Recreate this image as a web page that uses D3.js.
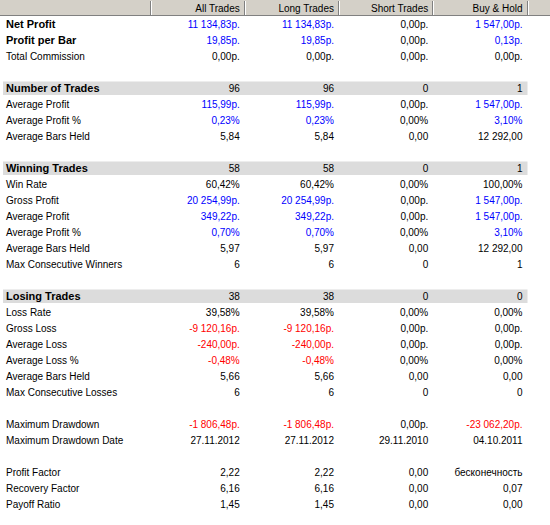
<!DOCTYPE html>
<html><head><meta charset="utf-8">
<script src="https://cdn.jsdelivr.net/npm/d3@7/dist/d3.min.js"></script>
<style>html,body{margin:0;padding:0;background:#fff;}svg{display:block;}</style>
</head><body>
<div id="chart"></div>
<script>
const columns = ["All Trades", "Long Trades", "Short Trades", "Buy & Hold"];
const labels = ["Net Profit","Profit per Bar","Total Commission","","Number of Trades","Average Profit","Average Profit %","Average Bars Held","","Winning Trades","Win Rate","Gross Profit","Average Profit","Average Profit %","Average Bars Held","Max Consecutive Winners","","Losing Trades","Loss Rate","Gross Loss","Average Loss","Average Loss %","Average Bars Held","Max Consecutive Losses","","Maximum Drawdown","Maximum Drawdown Date","","Profit Factor","Recovery Factor","Payoff Ratio"];
const allTrades = ["11 134,83р.","19,85р.","0,00р.","","96","115,99р.","0,23%","5,84","","58","60,42%","20 254,99р.","349,22р.","0,70%","5,97","6","","38","39,58%","-9 120,16р.","-240,00р.","-0,48%","5,66","6","","-1 806,48р.","27.11.2012","","2,22","6,16","1,45"];
const longTrades = ["11 134,83р.","19,85р.","0,00р.","","96","115,99р.","0,23%","5,84","","58","60,42%","20 254,99р.","349,22р.","0,70%","5,97","6","","38","39,58%","-9 120,16р.","-240,00р.","-0,48%","5,66","6","","-1 806,48р.","27.11.2012","","2,22","6,16","1,45"];
const shortTrades = ["0,00р.","0,00р.","0,00р.","","0","0,00р.","0,00%","0,00","","0","0,00%","0,00р.","0,00р.","0,00%","0,00","0","","0","0,00%","0,00р.","0,00р.","0,00%","0,00","0","","0,00р.","29.11.2010","","0,00","0,00","0,00"];
const buyHold = ["1 547,00р.","0,13р.","0,00р.","","1","1 547,00р.","3,10%","12 292,00","","1","100,00%","1 547,00р.","1 547,00р.","3,10%","12 292,00","1","","0","0,00%","0,00р.","0,00р.","0,00%","0,00","0","","-23 062,20р.","04.10.2011","","бесконечность","0,07","0,00"];
const sectionRows = ["Number of Trades","Winning Trades","Losing Trades"];
const boldRows = ["Net Profit","Profit per Bar"];
const blueRows = ["Net Profit","Profit per Bar","Average Profit","Average Profit %","Gross Profit"];

const series = [allTrades, longTrades, shortTrades, buyHold];
const W = 550, H = 525, headerH = 16, rowH = 16;
const font = "'Liberation Sans', Arial, sans-serif";

const svg = d3.select("#chart").append("svg").attr("width", W).attr("height", H);
svg.append("rect").attr("width", W).attr("height", H).attr("fill", "#fff");

const x = d3.scaleBand().domain(columns).range([150.5, 527.5]);
const y = d3.scaleBand().domain(d3.range(labels.length)).range([headerH, headerH + rowH * labels.length]);

// header
svg.append("rect").attr("x", 0).attr("y", 0).attr("width", W).attr("height", headerH).attr("fill", "#d4d0c8");
svg.append("line").attr("x1", 0).attr("x2", W).attr("y1", 15.5).attr("y2", 15.5).attr("stroke", "#808080");
const seps = [x.range()[0]].concat(columns.map(c => x(c) + x.bandwidth()));
seps.forEach(s => {
  const sx = Math.round(s) - 0.5;
  svg.append("line").attr("x1", sx).attr("x2", sx).attr("y1", 1).attr("y2", 15).attr("stroke", "#808080");
  svg.append("line").attr("x1", sx + 1).attr("x2", sx + 1).attr("y1", 1).attr("y2", 15).attr("stroke", "#ffffff");
});
svg.selectAll("text.hdr").data(columns).enter().append("text")
  .attr("class", "hdr")
  .attr("x", d => x(d) + x.bandwidth() - 5)
  .attr("y", 12)
  .attr("text-anchor", "end")
  .attr("font-family", font).attr("font-size", "10px").attr("fill", "#000")
  .text(d => d);

// section bands
svg.selectAll("rect.band").data(labels.map((l, i) => ({l, i})).filter(d => sectionRows.includes(d.l))).enter()
  .append("rect").attr("class", "band")
  .attr("x", 3).attr("y", d => y(d.i) + 1.5)
  .attr("width", x.range()[1] - 3).attr("height", rowH - 2.5)
  .attr("fill", "#dcdcdc");

// labels
svg.selectAll("text.lbl").data(labels.map((l, i) => ({l, i}))).enter().append("text")
  .attr("class", "lbl")
  .attr("x", 6)
  .attr("y", d => y(d.i) + rowH / 2 + 4)
  .attr("font-family", font)
  .attr("font-size", d => (sectionRows.includes(d.l) || boldRows.includes(d.l)) ? "11px" : "10px")
  .attr("font-weight", d => (sectionRows.includes(d.l) || boldRows.includes(d.l)) ? "bold" : "normal")
  .attr("fill", "#000")
  .text(d => d.l);

function parseVal(s) {
  const n = parseFloat(s.replace(/\s/g, "").replace(",", "."));
  return isNaN(n) ? null : n;
}
function colorOf(v, label) {
  const n = parseVal(v);
  if (v.startsWith("-")) return "#ff0000";
  if (blueRows.includes(label) && n !== null && n !== 0) return "#0000ff";
  return "#000";
}

columns.forEach((c, ci) => {
  svg.selectAll("text.v" + ci).data(series[ci].map((v, i) => ({v, i}))).enter().append("text")
    .attr("class", "v" + ci)
    .attr("x", x(c) + x.bandwidth() - 5)
    .attr("y", d => y(d.i) + rowH / 2 + 4)
    .attr("text-anchor", "end")
    .attr("font-family", font).attr("font-size", "10px")
    .attr("fill", d => colorOf(d.v, labels[d.i]))
    .text(d => d.v);
});
</script>
</body></html>
